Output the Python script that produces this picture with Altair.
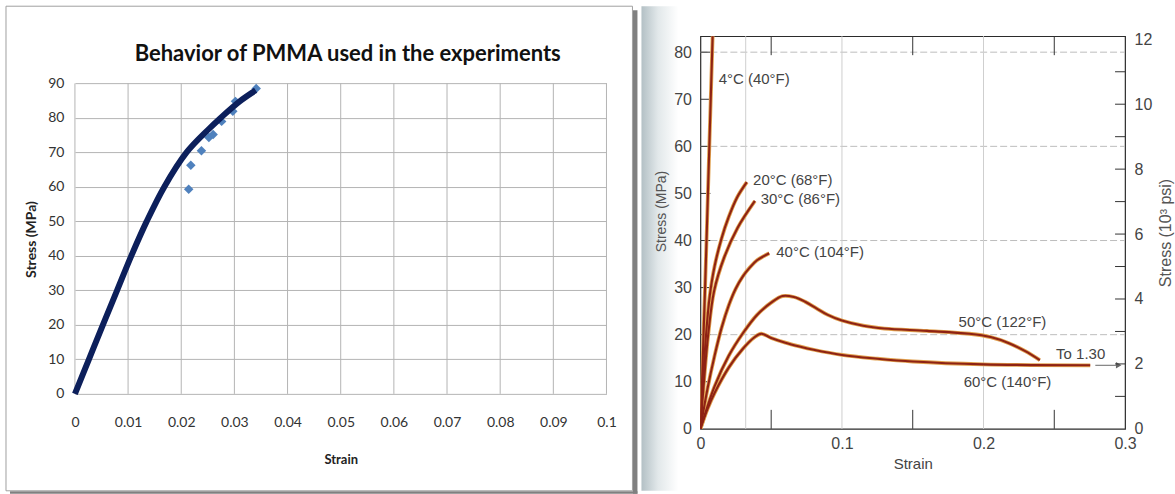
import altair as alt
import pandas as pd

# ---------------- Left panel: Behavior of PMMA (Excel-style) ----------------
fit_strain = [0, 0.00263, 0.00526, 0.00793, 0.0106, 0.0135, 0.0168, 0.0210, 0.0250, 0.0274, 0.0310, 0.0340]
fit_stress = [0, 10, 20, 30, 40, 50, 60, 70, 76.5, 80, 84.8, 88]
test_strain = [0.0214, 0.0218, 0.0238, 0.0252, 0.0260, 0.0276, 0.0297, 0.0302, 0.0341]
test_stress = [59.3, 66.3, 70.5, 74.3, 75.2, 79.0, 81.9, 84.8, 88.5]
left_x_ticks = [0, 0.01, 0.02, 0.03, 0.04, 0.05, 0.06, 0.07, 0.08, 0.09, 0.1]
left_y_ticks = [0, 10, 20, 30, 40, 50, 60, 70, 80, 90]

# ---------------- Right panel: PMMA stress-strain vs temperature ----------------
c4_strain = [0, 0.0033, 0.0063, 0.0083, 0.0089]
c4_mpa = [0, 30, 60, 80, 86]
c20_strain = [0, 0.0020, 0.0040, 0.0065, 0.0100, 0.0150, 0.0200, 0.0260, 0.0328]
c20_mpa = [0, 11, 20, 28, 34.5, 40.5, 45, 49.2, 52.4]
c30_strain = [0, 0.0025, 0.0055, 0.0097, 0.0168, 0.0263, 0.0385]
c30_mpa = [0, 10, 20, 29.3, 36.4, 42.7, 48.4]
c40_strain = [0, 0.0050, 0.0100, 0.0150, 0.0200, 0.0250, 0.0300, 0.0350, 0.0400, 0.0486]
c40_mpa = [0, 8.5, 15.5, 21.5, 26.2, 29.8, 32.4, 34.3, 35.8, 37.3]
c50_strain = [0, 0.010, 0.020, 0.030, 0.040, 0.050, 0.058, 0.066, 0.074, 0.082, 0.090, 0.100,
              0.115, 0.130, 0.160, 0.190, 0.205, 0.218, 0.2295, 0.2398]
c50_mpa = [0, 9, 15.5, 20.3, 24.2, 26.8, 28.2, 28.0, 27.0, 25.6, 24.2, 23.0,
           21.9, 21.3, 20.8, 20.2, 19.5, 18.2, 16.5, 14.6]
c60_strain = [0, 0.005, 0.010, 0.020, 0.030, 0.038, 0.043, 0.050, 0.060, 0.070, 0.080, 0.100,
              0.125, 0.150, 0.200, 0.2754]
c60_mpa = [0, 4.2, 7.6, 13.0, 17.0, 19.4, 20.2, 19.3, 18.3, 17.5, 16.8, 15.7, 14.9, 14.3, 13.7, 13.5]

label_text = ["4°C (40°F)", "20°C (68°F)", "30°C (86°F)", "40°C (104°F)", "50°C (122°F)",
              "60°C (140°F)", "To 1.30"]
label_strain = [0.0129, 0.0372, 0.0426, 0.0536, 0.1824, 0.1860, 0.2513]
label_mpa = [74.2, 52.8, 48.8, 37.6, 22.6, 10.0, 15.9]

arrow_strain = [0.2790]
arrow_strain_end = [0.2955]
arrow_mpa = [13.5]

grid_mpa = [20, 40, 60, 80]
grid_strain = [0.032, 0.1, 0.2]
left_tick_mpa = [10, 20, 30, 40, 50, 60, 70, 80]
x_inner_ticks = [0.05, 0.15, 0.25]
ksi_minor = [1, 2, 3, 4, 5, 6, 7, 8, 9, 10, 11]
mpa_max = 83.4
ksi_max = mpa_max / 6.895

LFONT = "Lato"
RFONT = "Liberation Sans"

one = pd.DataFrame({"k": [0]})

# ================= LEFT =================
# The left plot area starts at the same height as the right one; the Excel grid (0-90)
# occupies its lower part and the chart title sits in the free band above it.
fit_df = pd.DataFrame({"strain": fit_strain, "stress": fit_stress})
test_df = pd.DataFrame({"strain": test_strain, "stress": test_stress})
vgrid_df = pd.DataFrame({"strain": left_x_ticks,
                         "stress": [left_y_ticks[0]] * len(left_x_ticks),
                         "stress2": [left_y_ticks[-1]] * len(left_x_ticks)})

LW, LH = 532, 358
left_ymax = 103.7
xL = alt.X("strain:Q", scale=alt.Scale(domain=[0, 0.1], nice=False, zero=False),
           axis=alt.Axis(values=left_x_ticks,
                         labelExpr="datum.value == 0 ? '0' : format(datum.value, '~g')",
                         grid=False, domain=False, ticks=False, labelFlush=False,
                         labelPadding=22, labelFont=LFONT, labelFontSize=14, labelColor="#333",
                         title="Strain", titleFont=LFONT, titleFontSize=13, titleFontWeight="bold",
                         titleColor="#222", titlePadding=24))
yL = alt.Y("stress:Q", scale=alt.Scale(domain=[0, left_ymax], nice=False),
           axis=alt.Axis(values=left_y_ticks, grid=True, gridColor="#b4b4b4", domain=False, ticks=False,
                         labelOverlap=False, labelPadding=11, labelFont=LFONT, labelFontSize=14,
                         labelColor="#333", title="Stress (MPa)", titleFont=LFONT, titleFontSize=14,
                         titleFontWeight="bold", titleColor="#222", titlePadding=9, titleY=203))

frame = alt.Chart(one).mark_rect(fillOpacity=0, stroke="#a0a0a0", strokeWidth=1).encode(
    x=alt.value(-69), x2=alt.value(558), y=alt.value(-30), y2=alt.value(455))
shadow_r = alt.Chart(one).mark_rect(color="#808080").encode(
    x=alt.value(558.5), x2=alt.value(563), y=alt.value(-26), y2=alt.value(458))
shadow_b = alt.Chart(one).mark_rect(color="#808080").encode(
    x=alt.value(-65), x2=alt.value(563), y=alt.value(455.5), y2=alt.value(458))
vgrid_l = alt.Chart(vgrid_df).mark_rule(color="#b4b4b4", strokeWidth=1).encode(
    x=xL, y=yL, y2=alt.Y2("stress2"))
title_txt = alt.Chart(one).mark_text(
    text="Behavior of PMMA used in the experiments", font=LFONT, fontSize=22, fontWeight="bold",
    color="#111", align="center", baseline="alphabetic").encode(x=alt.value(273), y=alt.value(25))
pts = alt.Chart(test_df).mark_point(shape="diamond", filled=True, size=90, color="#4f81bd",
                                    opacity=1).encode(x=xL, y=yL)
fit = alt.Chart(fit_df).mark_line(color="#0c1f5b", strokeWidth=6, interpolate="catmull-rom").encode(x=xL, y=yL)

left = alt.layer(shadow_r, shadow_b, frame, vgrid_l, title_txt, pts, fit).properties(
    width=LW, height=LH, view=alt.ViewBackground(strokeOpacity=0))

# ================= RIGHT =================
RW, RS = 425, 393
rows = []
for name, xs, ys in [("4", c4_strain, c4_mpa), ("20", c20_strain, c20_mpa), ("30", c30_strain, c30_mpa),
                     ("40", c40_strain, c40_mpa), ("50", c50_strain, c50_mpa), ("60", c60_strain, c60_mpa)]:
    for s, m in zip(xs, ys):
        rows.append({"curve": name, "strain": s, "mpa": m})
curves_df = pd.DataFrame(rows)
labels_df = pd.DataFrame({"label": label_text, "strain": label_strain, "mpa": label_mpa})
arrow_df = pd.DataFrame({"strain": arrow_strain, "strain2": arrow_strain_end, "mpa": arrow_mpa})
head_df = pd.DataFrame({"strain": arrow_strain_end, "mpa": arrow_mpa})

xR = alt.X("strain:Q", scale=alt.Scale(domain=[0, 0.3], nice=False, zero=False),
           axis=alt.Axis(values=[0, 0.1, 0.2, 0.3],
                         labelExpr="datum.value == 0 ? '0' : format(datum.value, '.1f')",
                         grid=False, domain=False, ticks=False, labelFlush=False, labelPadding=7,
                         labelFont=RFONT, labelFontSize=16, labelColor="#444",
                         title="Strain", titleFont=RFONT, titleFontSize=15, titleFontWeight="normal",
                         titleColor="#444", titlePadding=5))
yR = alt.Y("mpa:Q", scale=alt.Scale(domain=[0, mpa_max], nice=False),
           axis=alt.Axis(values=[0, 10, 20, 30, 40, 50, 60, 70, 80], grid=False, domain=False, ticks=False,
                         labelPadding=9, labelFont=RFONT, labelFontSize=16, labelColor="#444",
                         title="Stress (MPa)", titleFont=RFONT, titleFontSize=14, titleFontWeight="normal",
                         titleColor="#555", titlePadding=5, titleY=175, zindex=1))

strip = alt.Chart(one).mark_rect(
    fill=alt.LinearGradient(gradient="linear",
                            stops=[alt.GradientStop(color="#b3c0c5", offset=0),
                                   alt.GradientStop(color="#e2e8ea", offset=0.45),
                                   alt.GradientStop(color="#ffffff", offset=1)],
                            x1=0, x2=1, y1=0, y2=0)).encode(
    x=alt.value(-59), x2=alt.value(-22), y=alt.value(-30), y2=alt.value(455))
hgrid = alt.Chart(pd.DataFrame({"mpa": grid_mpa})).mark_rule(
    color="#bdbdbd", strokeDash=[7, 3], strokeWidth=1).encode(y=yR, x=alt.value(0), x2=alt.value(RW))
vgrid = alt.Chart(pd.DataFrame({"strain": grid_strain})).mark_rule(
    color="#cfcfcf", strokeWidth=1).encode(x=xR, y=alt.value(0), y2=alt.value(RS))
lticks = alt.Chart(pd.DataFrame({"mpa": left_tick_mpa})).mark_rule(color="#333").encode(
    y=yR, x=alt.value(0), x2=alt.value(10))
xt_df = pd.DataFrame({"strain": x_inner_ticks})
xtb = alt.Chart(xt_df).mark_rule(color="#333").encode(x=xR, y=alt.value(RS - 19), y2=alt.value(RS))
xtt = alt.Chart(xt_df).mark_rule(color="#333").encode(x=xR, y=alt.value(0), y2=alt.value(19))
halo = alt.Chart(curves_df).mark_line(color="#e0a04e", strokeWidth=3.8, interpolate="catmull-rom",
                                      clip=True).encode(x=xR, y=yR, detail="curve:N")
core = alt.Chart(curves_df).mark_line(color="#8e2214", strokeWidth=2.1, interpolate="catmull-rom",
                                      clip=True).encode(x=xR, y=yR, detail="curve:N")
texts = alt.Chart(labels_df).mark_text(align="left", baseline="middle", font=RFONT, fontSize=15,
                                       color="#444").encode(x=xR, y=yR, text="label:N")
arrow = alt.Chart(arrow_df).mark_rule(color="#666", strokeWidth=1).encode(
    x=xR, x2=alt.X2("strain2"), y=yR)
head = alt.Chart(head_df).mark_point(shape="triangle-right", filled=True, size=40, color="#666",
                                     opacity=1).encode(x=xR, y=yR)

yK = alt.Y("ksi:Q", scale=alt.Scale(domain=[0, ksi_max], nice=False),
           axis=alt.Axis(orient="right", values=[0, 2, 4, 6, 8, 10, 12], grid=False, domain=False,
                         ticks=False, labelPadding=9, labelFont=RFONT, labelFontSize=16, labelColor="#444",
                         title="Stress (10³ psi)", titleFont=RFONT, titleFontSize=16,
                         titleFontWeight="normal", titleColor="#555", titlePadding=6, titleAngle=270,
                         titleBaseline="top"))
ksi_ticks = alt.Chart(pd.DataFrame({"ksi": ksi_minor})).mark_rule(color="#333").encode(
    y=yK, x=alt.value(RW - 10), x2=alt.value(RW))

mpa_layers = alt.layer(strip, hgrid, vgrid, lticks, xtb, xtt, halo, core, texts, arrow, head)
right = alt.layer(mpa_layers, ksi_ticks).resolve_scale(y="independent").properties(
    width=RW, height=RS, view=alt.ViewBackground(stroke="#2b2b2b", strokeWidth=1.2))

chart = alt.hconcat(left, right, spacing=3).properties(
    padding={"left": 5, "top": 5, "right": 0, "bottom": 0}, background="white")

chart.save("out.html", embed_options={"renderer": "svg", "actions": False})
